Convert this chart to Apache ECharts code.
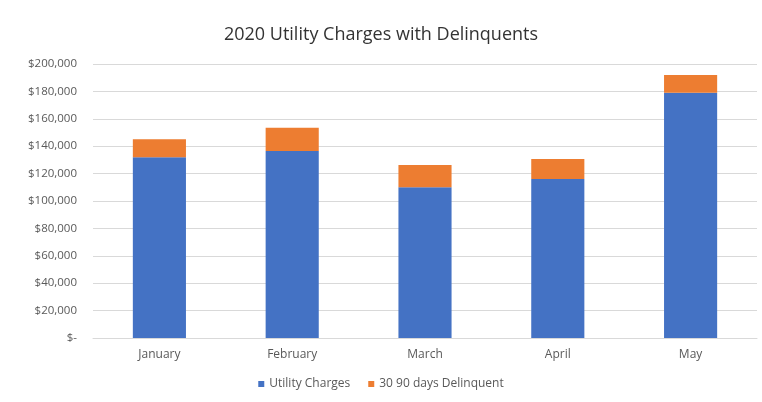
<!DOCTYPE html>
<html><head><meta charset="utf-8">
<script src="https://cdn.jsdelivr.net/npm/echarts@6/dist/echarts.min.js"></script>
<style>html,body{margin:0;padding:0;background:#fff}#c{width:762px;height:402px}</style>
</head><body><div id="c"></div>
<script>
const categories = ['January', 'February', 'March', 'April', 'May'];
const utilityCharges = [132000, 136500, 110000, 116000, 179000];
const delinquent = [13000, 17000, 16300, 14700, 13000];
const yTicks = [0, 20000, 40000, 60000, 80000, 100000, 120000, 140000, 160000, 180000, 200000];
const seriesNames = ['Utility Charges', '30 90 days Delinquent'];

const chart = echarts.init(document.getElementById('c'), null, {renderer: 'canvas'});
const fmt = v => v === 0 ? '$-' : '$' + v.toLocaleString('en-US');
chart.setOption({
  animation: false,
  backgroundColor: '#fff',
  title: {
    text: '2020 Utility Charges with Delinquents',
    left: 'center', top: 21,
    textStyle: {fontFamily: 'Open Sans', fontSize: 18, fontWeight: 'normal', color: '#333'}
  },
  legend: {
    bottom: 7, left: 'center',
    icon: 'rect', itemWidth: 6, itemHeight: 6, itemGap: 18,
    textStyle: {fontFamily: 'Open Sans', fontSize: 12, color: '#595959'},
    data: seriesNames
  },
  grid: {left: 93, right: 5, top: 64, bottom: 64, containLabel: false},
  xAxis: {
    type: 'category', data: categories,
    axisLine: {lineStyle: {color: '#d9d9d9'}},
    axisTick: {show: false},
    axisLabel: {fontFamily: 'Open Sans', fontSize: 12, color: '#595959', margin: 11}
  },
  yAxis: {
    type: 'value', min: yTicks[0], max: yTicks[yTicks.length - 1], interval: yTicks[1] - yTicks[0],
    axisLine: {show: false}, axisTick: {show: false},
    splitLine: {lineStyle: {color: '#d9d9d9'}},
    axisLabel: {fontFamily: 'Open Sans', fontSize: 11.5, color: '#595959', margin: 16, formatter: fmt}
  },
  series: [
    {name: seriesNames[0], type: 'bar', stack: 'a', data: utilityCharges, barWidth: '40%',
     itemStyle: {color: '#4472C4'}},
    {name: seriesNames[1], type: 'bar', stack: 'a', data: delinquent, barWidth: '40%',
     itemStyle: {color: '#ED7D31'}}
  ]
});
</script></body></html>
